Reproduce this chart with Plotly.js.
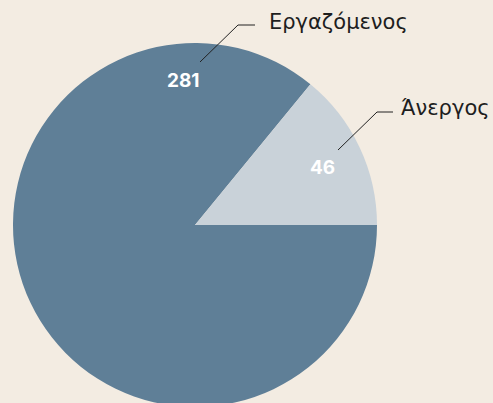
<!DOCTYPE html>
<html>
<head>
<meta charset="utf-8">
<script src="https://cdn.plot.ly/plotly-3.0.1.min.js"></script>
<style>
html,body{margin:0;padding:0;overflow:hidden;background:#f3ece2;}
#chart{width:493px;height:410px;}
</style>
</head>
<body>
<div id="chart"></div>
<script>
var categories = ["Εργαζόμενος", "Άνεργος"];
var values = [281, 46];
var colors = ["#5f7f97", "#c9d2d9"];

var W = 493, H = 410;
function px(x){ return x / W; }
function py(y){ return 1 - y / H; }

var trace = {
  type: "pie",
  labels: categories,
  values: values,
  sort: false,
  direction: "clockwise",
  rotation: 90,
  marker: {colors: colors, line: {width: 0}},
  textinfo: "none",
  hoverinfo: "label+value",
  showlegend: false,
  domain: {x: [px(13), px(377)], y: [py(407), py(43)]}
};

var numFont = {family: "Inter, 'Open Sans', sans-serif", size: 19, color: "#ffffff", weight: 700};
var labFont = {family: "'DejaVu Sans', sans-serif", size: 21, color: "#1e1e1e"};

function ann(x, y, text, font, xa){
  return {x: px(x), y: py(y), xref: "paper", yref: "paper", text: text, showarrow: false,
          xanchor: xa || "center", yanchor: "middle", font: font};
}

var annotations = [
  ann(183, 81, String(values[0]), numFont),
  ann(322, 168, String(values[1]), numFont),
  ann(267, 22, categories[0], labFont, "left"),
  ann(399, 108, categories[1], labFont, "left")
];

var lineStyle = {color: "#222222", width: 1};
var shapes = [
  {type: "path", xref: "paper", yref: "paper",
   path: "M " + px(200) + " " + py(62) + " L " + px(238) + " " + py(25) + " L " + px(255) + " " + py(25),
   line: lineStyle},
  {type: "path", xref: "paper", yref: "paper",
   path: "M " + px(338) + " " + py(150) + " L " + px(377) + " " + py(112) + " L " + px(393) + " " + py(112),
   line: lineStyle}
];

var layout = {
  width: W, height: H,
  margin: {l: 0, r: 0, t: 0, b: 0},
  paper_bgcolor: "#f3ece2",
  plot_bgcolor: "#f3ece2",
  annotations: annotations,
  shapes: shapes
};

Plotly.newPlot("chart", [trace], layout, {displayModeBar: false, staticPlot: true});
</script>
</body>
</html>
